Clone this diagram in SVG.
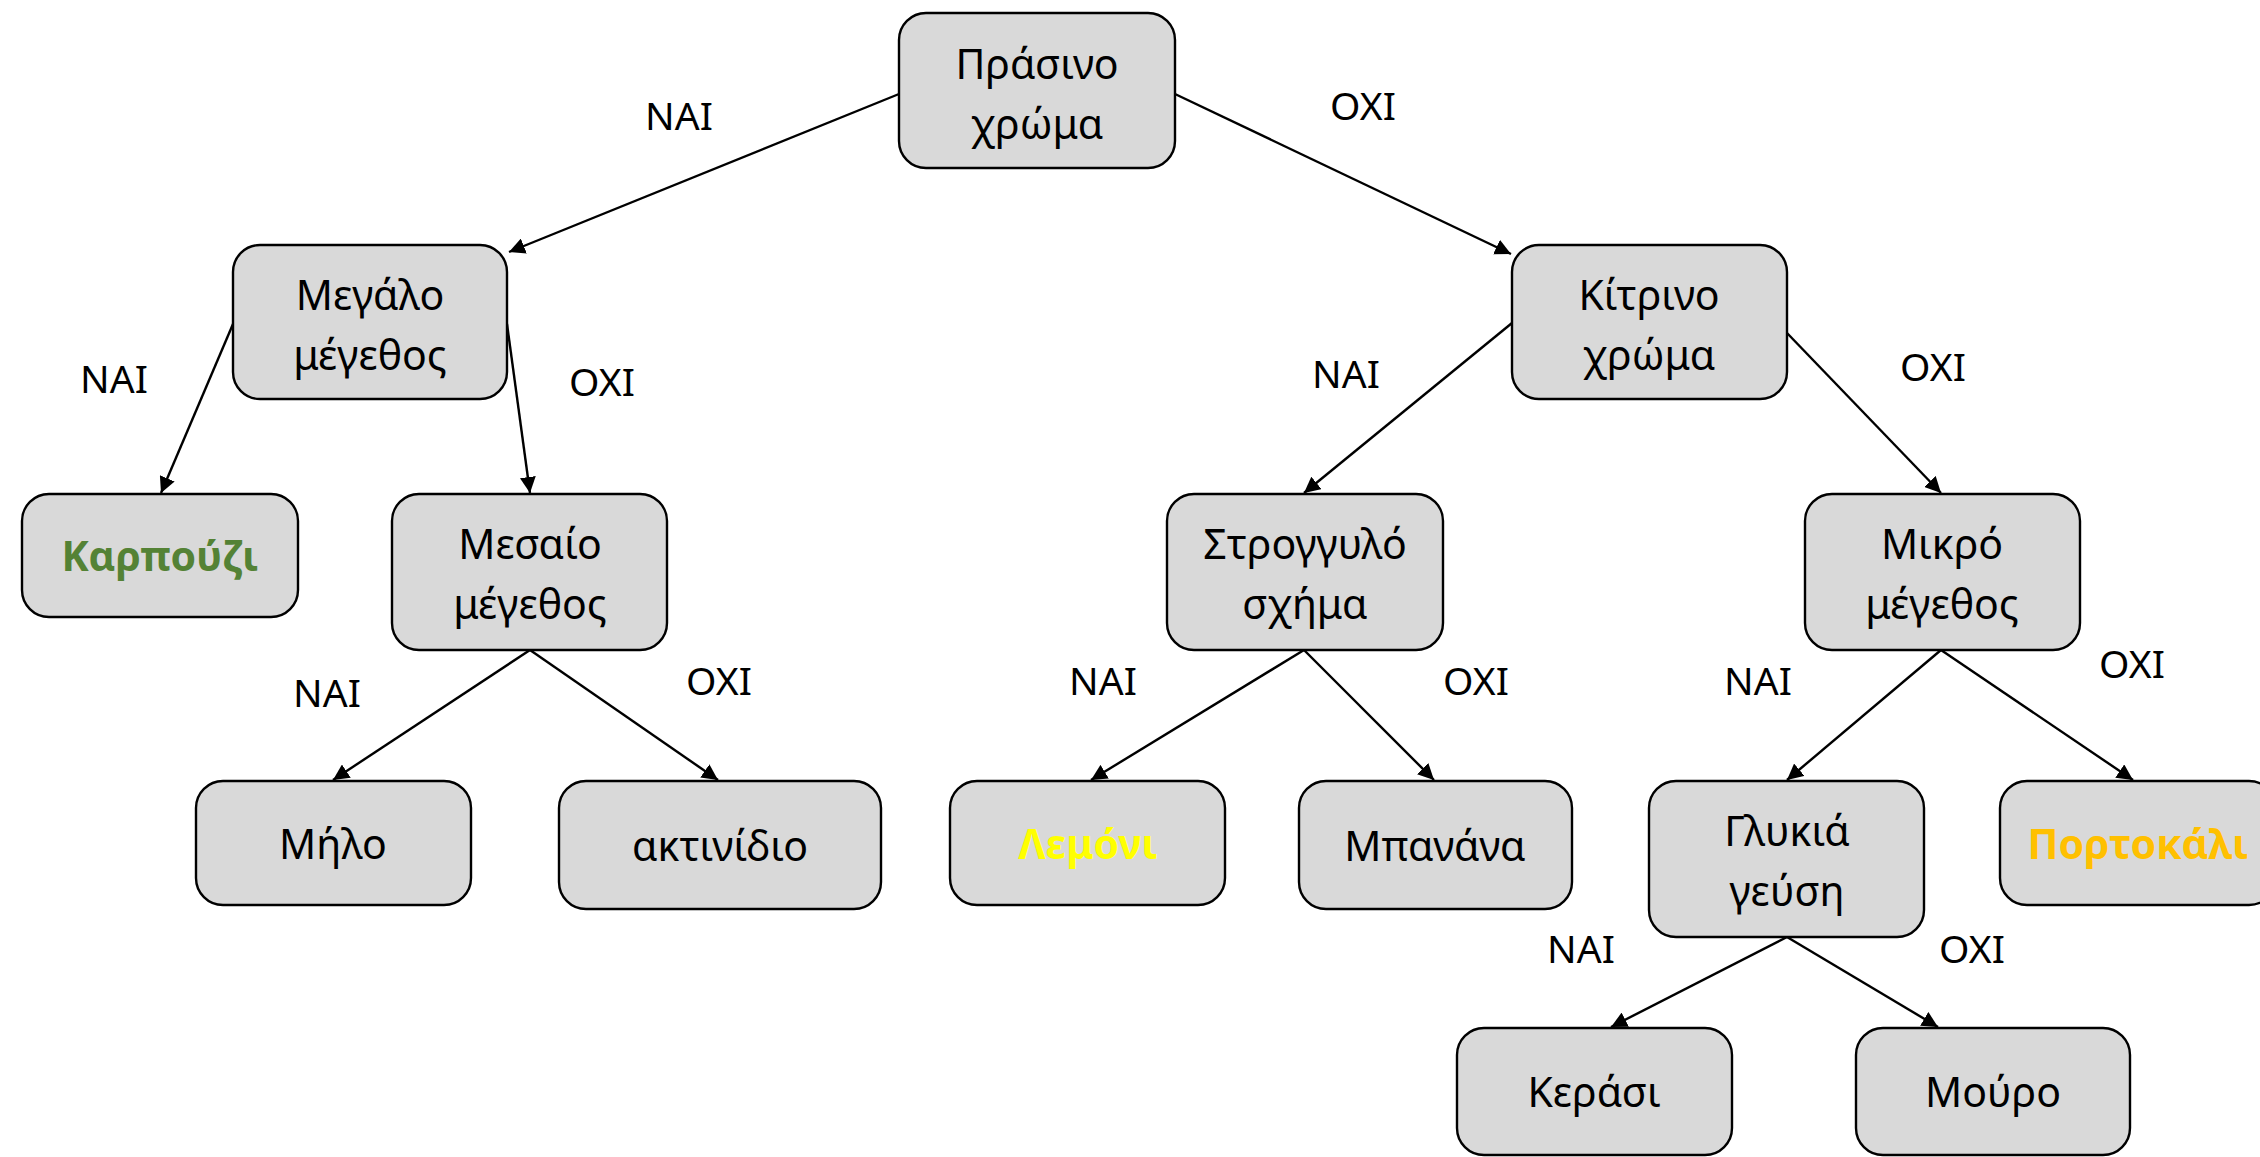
<svg xmlns="http://www.w3.org/2000/svg" width="2260" height="1157" viewBox="0 0 2260 1157">
  <style>
    .box { fill: #D9D9D9; stroke: #000; stroke-width: 2.4; }
    .t { font-family: "Noto Sans", "Open Sans", sans-serif; font-size: 41px; fill: #000; text-anchor: middle; }
    .b { font-weight: bold; }
    .lbl { font-family: "Noto Sans", "Open Sans", sans-serif; font-size: 39px; fill: #000; text-anchor: middle; }
    .edge { stroke: #000; stroke-width: 2.4; fill: none; marker-end: url(#arr); }
  </style>
  <defs>
    <marker id="arr" markerUnits="userSpaceOnUse" markerWidth="18" markerHeight="16" refX="16" refY="8" orient="auto">
      <path d="M0,0 L16,8 L0,16 Z" fill="#000"/>
    </marker>
  </defs>
  <rect width="2260" height="1157" fill="#fff"/>

  <g id="connectors">
    <line class="edge" x1="899" y1="94" x2="509" y2="252"/>
    <line class="edge" x1="1175" y1="94" x2="1511" y2="254"/>
    <line class="edge" x1="233" y1="324" x2="161" y2="493"/>
    <line class="edge" x1="507" y1="324" x2="530" y2="493"/>
    <line class="edge" x1="530" y1="650" x2="333" y2="780"/>
    <line class="edge" x1="530" y1="650" x2="718" y2="780"/>
    <line class="edge" x1="1512" y1="323" x2="1304" y2="493"/>
    <line class="edge" x1="1787" y1="333" x2="1941" y2="493"/>
    <line class="edge" x1="1304" y1="650" x2="1091" y2="780"/>
    <line class="edge" x1="1304" y1="650" x2="1434" y2="780"/>
    <line class="edge" x1="1941" y1="650" x2="1787" y2="780"/>
    <line class="edge" x1="1941" y1="650" x2="2133" y2="780"/>
    <line class="edge" x1="1787" y1="937" x2="1611" y2="1027"/>
    <line class="edge" x1="1787" y1="937" x2="1938" y2="1027"/>
  </g>

  <g id="edge-labels">
    <text class="lbl" x="679" y="130">NAI</text>
    <text class="lbl" x="1363" y="120">OXI</text>
    <text class="lbl" x="114" y="393">NAI</text>
    <text class="lbl" x="602" y="396">OXI</text>
    <text class="lbl" x="1346" y="388">NAI</text>
    <text class="lbl" x="1933" y="381">OXI</text>
    <text class="lbl" x="327" y="707">NAI</text>
    <text class="lbl" x="719" y="695">OXI</text>
    <text class="lbl" x="1103" y="695">NAI</text>
    <text class="lbl" x="1476" y="695">OXI</text>
    <text class="lbl" x="1758" y="695">NAI</text>
    <text class="lbl" x="2132" y="678">OXI</text>
    <text class="lbl" x="1581" y="963">NAI</text>
    <text class="lbl" x="1972" y="963">OXI</text>
  </g>

  <g id="n-prasino">
    <rect class="box" x="899" y="13" width="276" height="155" rx="27"/>
    <text class="t" x="1037" y="79">Πράσινο</text>
    <text class="t" x="1037" y="139">χρώμα</text>
  </g>
  <g id="n-megalo">
    <rect class="box" x="233" y="245" width="274" height="154" rx="27"/>
    <text class="t" x="370" y="310">Μεγάλο</text>
    <text class="t" x="370" y="370">μέγεθος</text>
  </g>
  <g id="n-kitrino">
    <rect class="box" x="1512" y="245" width="275" height="154" rx="27"/>
    <text class="t" x="1649" y="310">Κίτρινο</text>
    <text class="t" x="1649" y="370">χρώμα</text>
  </g>
  <g id="n-karpouzi">
    <rect class="box" x="22" y="494" width="276" height="123" rx="27"/>
    <text class="t b" x="160" y="571" style="fill:#548235">Καρπούζι</text>
  </g>
  <g id="n-mesaio">
    <rect class="box" x="392" y="494" width="275" height="156" rx="27"/>
    <text class="t" x="530" y="559">Μεσαίο</text>
    <text class="t" x="530" y="619">μέγεθος</text>
  </g>
  <g id="n-strogyylo">
    <rect class="box" x="1167" y="494" width="276" height="156" rx="27"/>
    <text class="t" x="1305" y="559">Στρογγυλό</text>
    <text class="t" x="1305" y="619">σχήμα</text>
  </g>
  <g id="n-mikro">
    <rect class="box" x="1805" y="494" width="275" height="156" rx="27"/>
    <text class="t" x="1942" y="559">Μικρό</text>
    <text class="t" x="1942" y="619">μέγεθος</text>
  </g>
  <g id="n-milo">
    <rect class="box" x="196" y="781" width="275" height="124" rx="27"/>
    <text class="t" x="333" y="859">Μήλο</text>
  </g>
  <g id="n-aktinidio">
    <rect class="box" x="559" y="781" width="322" height="128" rx="27"/>
    <text class="t" x="720" y="861">ακτινίδιο</text>
  </g>
  <g id="n-lemoni">
    <rect class="box" x="950" y="781" width="275" height="124" rx="27"/>
    <text class="t b" x="1088" y="859" style="fill:#FFFF00">Λεμόνι</text>
  </g>
  <g id="n-banana">
    <rect class="box" x="1299" y="781" width="273" height="128" rx="27"/>
    <text class="t" x="1435" y="861">Μπανάνα</text>
  </g>
  <g id="n-glykia">
    <rect class="box" x="1649" y="781" width="275" height="156" rx="27"/>
    <text class="t" x="1787" y="846">Γλυκιά</text>
    <text class="t" x="1787" y="906">γεύση</text>
  </g>
  <g id="n-portokali">
    <rect class="box" x="2000" y="781" width="276" height="124" rx="27"/>
    <text class="t b" x="2138" y="859" style="fill:#FFC000">Πορτοκάλι</text>
  </g>
  <g id="n-kerasi">
    <rect class="box" x="1457" y="1028" width="275" height="127" rx="27"/>
    <text class="t" x="1594" y="1107">Κεράσι</text>
  </g>
  <g id="n-mouro">
    <rect class="box" x="1856" y="1028" width="274" height="127" rx="27"/>
    <text class="t" x="1993" y="1107">Μούρο</text>
  </g>
</svg>
